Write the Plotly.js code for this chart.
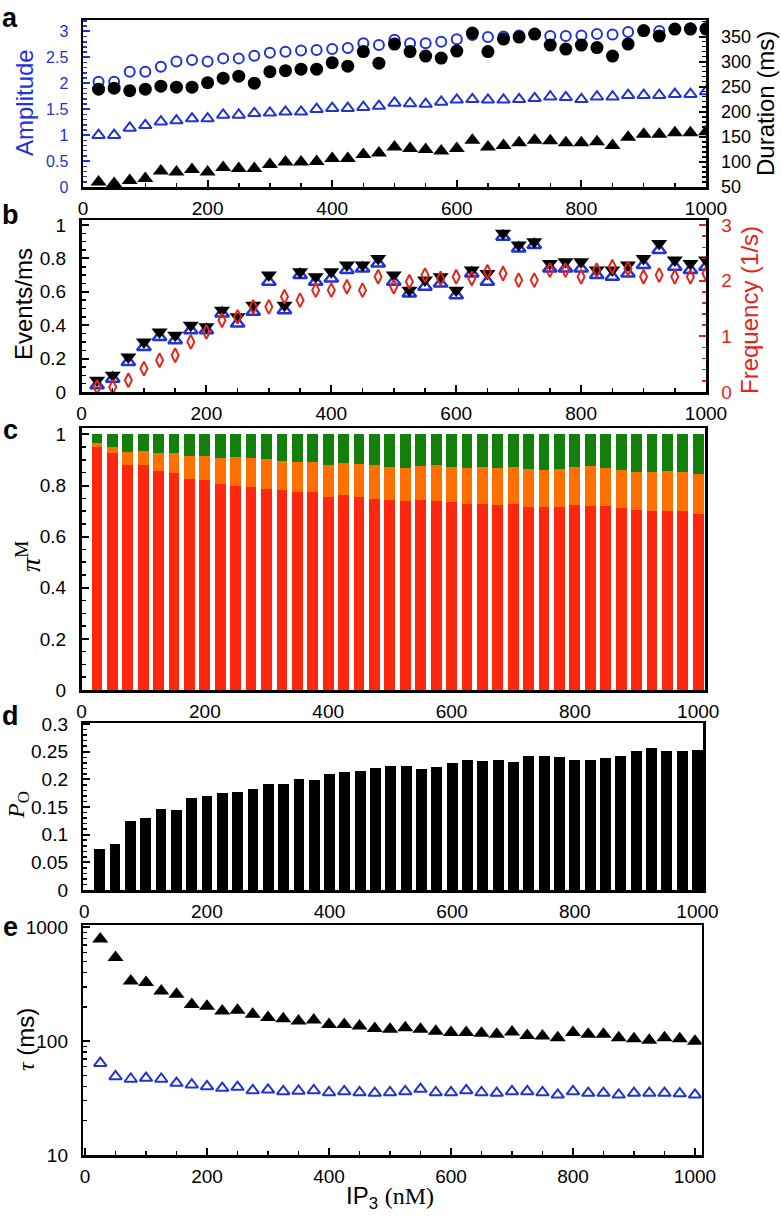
<!DOCTYPE html>
<html>
<head>
<meta charset="utf-8">
<script src="https://cdn.plot.ly/plotly-3.0.1.min.js"></script>
<style>
  html, body { margin:0; padding:0; background:#fff; }
  #chart { width:781px; height:1218px; }
</style>
</head>
<body>
<div id="chart"></div>
<script>

/* ==========================================
   DATA
========================================== */

const ip3 = [25,50,75,100,125,150,175,200,225,250,
             275,300,325,350,375,400,425,450,475,500,
             525,550,575,600,625,650,675,700,725,750,
             775,800,825,850,875,900,925,950,975,1000];

// panel a
const ampCircle = [2.03,2.03,2.22,2.22,2.32,2.42,2.45,2.42,2.48,2.48,
                   2.53,2.59,2.61,2.63,2.64,2.66,2.68,2.77,2.74,2.84,
                   2.77,2.77,2.80,2.85,2.93,2.89,2.90,2.92,2.95,2.91,
                   2.91,2.92,2.95,2.94,2.99,3.01,3.01,3.04,3.06,3.06];

const ampTriangle = [1.00,1.00,1.14,1.19,1.26,1.28,1.32,1.32,1.39,1.39,
                     1.42,1.43,1.45,1.45,1.50,1.52,1.52,1.54,1.56,1.62,
                     1.61,1.60,1.64,1.68,1.69,1.68,1.68,1.69,1.71,1.74,
                     1.73,1.69,1.74,1.74,1.77,1.77,1.77,1.79,1.79,1.84];

const durCircle = [245,247,242,245,251,249,249,258,267,271,
                   257,280,282,285,285,298,291,320,297,335,
                   320,311,307,321,357,320,345,349,355,333,
                   325,333,328,311,335,362,351,365,365,365];

const durTriangle = [60,57,63,67,82,80,85,80,89,87,
                     87,95,100,100,101,107,107,115,118,130,
                     127,125,122,127,143,130,133,138,143,142,
                     138,138,140,133,149,155,155,158,158,160];

// panel b
const eventsDown = [0.07,0.10,0.21,0.30,0.36,0.34,0.40,0.39,0.49,0.45,
                    0.52,0.70,0.52,0.72,0.69,0.72,0.76,0.76,0.80,0.70,
                    0.61,0.67,0.69,0.61,0.73,0.71,0.95,0.88,0.90,0.77,
                    0.78,0.78,0.73,0.73,0.76,0.80,0.89,0.79,0.77,0.79];

const eventsUp = [0.04,0.08,0.18,0.27,0.33,0.31,0.37,0.37,0.47,0.41,
                  0.48,0.66,0.49,0.70,0.66,0.68,0.73,0.74,0.77,0.66,
                  0.59,0.63,0.65,0.58,0.71,0.66,0.93,0.86,0.88,0.74,
                  0.74,0.74,0.70,0.69,0.71,0.76,0.85,0.75,0.73,0.75];

const frequency = [0.09,0.09,0.21,0.42,0.57,0.66,0.90,1.08,1.29,1.35,
                   1.53,1.53,1.71,1.65,1.83,1.83,1.89,1.83,2.07,1.89,
                   1.98,2.10,2.04,2.07,2.04,2.16,2.13,2.01,2.01,2.19,
                   2.19,2.07,2.19,2.25,2.22,2.07,2.10,2.07,2.07,2.13];

// panel c (stacked fractions)
const piRed = [0.949,0.926,0.881,0.879,0.858,0.850,0.825,0.821,0.807,0.798,
               0.795,0.785,0.781,0.774,0.774,0.757,0.761,0.757,0.747,0.742,
               0.740,0.744,0.740,0.735,0.728,0.728,0.724,0.728,0.716,0.717,
               0.716,0.725,0.721,0.719,0.712,0.703,0.699,0.702,0.701,0.690];

const piOrange = [0.016,0.024,0.051,0.057,0.070,0.078,0.090,0.094,0.101,0.114,
                  0.113,0.119,0.114,0.117,0.117,0.125,0.128,0.129,0.135,0.130,
                  0.129,0.131,0.139,0.136,0.141,0.145,0.145,0.143,0.149,0.145,
                  0.150,0.148,0.154,0.150,0.150,0.150,0.154,0.156,0.152,0.156];

const piGreen = [0.035,0.050,0.068,0.064,0.072,0.072,0.085,0.085,0.092,0.088,
                 0.092,0.096,0.105,0.109,0.109,0.118,0.111,0.114,0.118,0.128,
                 0.131,0.125,0.121,0.129,0.131,0.127,0.131,0.129,0.135,0.138,
                 0.134,0.127,0.125,0.131,0.138,0.147,0.147,0.142,0.147,0.154];

// panel d
const openProb = [0.074,0.083,0.125,0.130,0.147,0.144,0.167,0.170,0.175,0.177,
                  0.182,0.192,0.192,0.200,0.199,0.209,0.214,0.215,0.220,0.224,
                  0.225,0.219,0.223,0.230,0.235,0.233,0.235,0.232,0.242,0.242,
                  0.241,0.235,0.236,0.238,0.243,0.252,0.256,0.251,0.251,0.254];

// panel e
const tauFilled = [789,543,338,327,276,258,210,203,184,187,
                   172,161,157,150,153,140,140,136,129,127,
                   131,127,122,119,119,117,115,120,112,111,
                   107,119,115,115,107,105,102,107,105,100];

const tauOpen = [64,49,46.5,47.4,46.5,42.8,41.4,40,38.7,39.5,
                 36.9,37.4,36.2,36.5,36.9,35.4,36.2,35.4,35,35.4,
                 36.2,37.9,35.4,35.4,36.9,35.4,35,36.2,36.2,35.4,
                 33.8,36.2,35,35,33.8,35,35,35,34.6,33.8];

const xTicks = [0,200,400,600,800,1000];


/* ==========================================
   STYLE
========================================== */

const W = 781, H = 1218;
const SANS = "Liberation Sans, Arial, Helvetica, sans-serif";
const SERIF = "Liberation Serif, Times New Roman, serif";
const BLUE = "#2233d6";
const RED = "#e3261c";

function px(x){ return x / W; }
function py(y){ return 1 - y / H; }

function xAxis(dom, range, anchor, withTicks){
    const axis = {
        domain:[px(dom[0]), px(dom[1])],
        range:range,
        anchor:anchor,
        tickvals:xTicks,
        ticks:withTicks ? "inside" : "",
        ticklen:7, tickwidth:2, tickcolor:"#000",
        ticklabelstandoff:3,
        tickfont:{family:SANS, size:19, color:"#000"},
        showline:true, linecolor:"#000", linewidth:2.5, mirror:true,
        showgrid:false, zeroline:false, fixedrange:true
    };
    if(withTicks){
        axis.minor = {dtick:50, ticks:"inside", ticklen:4, tickwidth:1.5, tickcolor:"#000"};
    }
    return axis;
}

function yAxis(dom, range, anchor, dtick, minorDtick, extra){
    return Object.assign({
        domain:[py(dom[1]), py(dom[0])],
        range:range,
        anchor:anchor,
        dtick:dtick, tick0:0,
        ticks:"inside", ticklen:7, tickwidth:2, tickcolor:"#000",
        minor:{dtick:minorDtick, ticks:"inside", ticklen:4, tickwidth:1.5, tickcolor:"#000"},
        ticklabelstandoff:9,
        tickfont:{family:SANS, size:19, color:"#000"},
        showline:true, linecolor:"#000", linewidth:2.5, mirror:true,
        showgrid:false, zeroline:false, fixedrange:true
    }, extra || {});
}


/* ==========================================
   TRACES
========================================== */

const traces = [

    // a
    {x:ip3, y:ampCircle, xaxis:"x", yaxis:"y", mode:"markers",
     marker:{symbol:"circle-open", size:10, color:BLUE, line:{width:2, color:BLUE}}},
    {x:ip3, y:ampTriangle, xaxis:"x", yaxis:"y", mode:"markers",
     marker:{symbol:"triangle-up-open", size:11, color:BLUE, line:{width:2, color:BLUE}}},
    {x:ip3, y:durCircle, xaxis:"x", yaxis:"y2", mode:"markers",
     marker:{symbol:"circle", size:13, color:"#000"}},
    {x:ip3, y:durTriangle, xaxis:"x", yaxis:"y2", mode:"markers",
     marker:{symbol:"triangle-up", size:14, color:"#000"}},

    // b
    {x:ip3, y:eventsUp, xaxis:"x2", yaxis:"y3", mode:"markers",
     marker:{symbol:"triangle-up-open", size:12, color:BLUE, line:{width:2.5, color:BLUE}}},
    {x:ip3, y:eventsDown, xaxis:"x2", yaxis:"y3", mode:"markers",
     marker:{symbol:"triangle-down", size:14, color:"#000"}},
    {x:ip3, y:frequency, xaxis:"x2", yaxis:"y4", mode:"markers",
     marker:{symbol:"diamond-tall-open", size:10, color:RED, line:{width:2, color:RED}}},

    // c
    {type:"bar", x:ip3, y:piRed, width:17.5, xaxis:"x3", yaxis:"y5",
     marker:{color:"#fd2710", line:{width:0}}},
    {type:"bar", x:ip3, y:piOrange, width:17.5, xaxis:"x3", yaxis:"y5",
     marker:{color:"#ff7000", line:{width:0}}},
    {type:"bar", x:ip3, y:piGreen, width:17.5, xaxis:"x3", yaxis:"y5",
     marker:{color:"#13800c", line:{width:0}}},

    // d
    {type:"bar", x:ip3, y:openProb, width:17.5, xaxis:"x4", yaxis:"y6",
     marker:{color:"#000", line:{width:0}}},

    // e
    {x:ip3, y:tauFilled, xaxis:"x5", yaxis:"y7", mode:"markers",
     marker:{symbol:"triangle-up", size:14, color:"#000"}},
    {x:ip3, y:tauOpen, xaxis:"x5", yaxis:"y7", mode:"markers",
     marker:{symbol:"triangle-up-open", size:11, color:BLUE, line:{width:2, color:BLUE}}}

];


/* ==========================================
   LAYOUT
========================================== */

function label(text, x, y, size, opts){
    return Object.assign({
        text:text, xref:"paper", yref:"paper", x:px(x), y:py(y),
        xanchor:"center", yanchor:"middle", showarrow:false,
        font:{family:SANS, size:size, color:"#000"}
    }, opts || {});
}

const layout = {
    width:W, height:H,
    margin:{l:0, r:0, t:0, b:0},
    paper_bgcolor:"#fff", plot_bgcolor:"rgba(0,0,0,0)",
    showlegend:false,
    barmode:"stack",

    xaxis:xAxis([83,706], [0,1000], "y", true),
    yaxis:yAxis([20,187], [0,3.22], "x", 0.5, 0.1, {
        tickcolor:BLUE, mirror:false,
        minor:{dtick:0.1, ticks:"inside", ticklen:4, tickwidth:1.5, tickcolor:BLUE},
        tickfont:{family:SANS, size:16, color:BLUE}
    }),
    yaxis2:yAxis([20,187], [50,383], "x", 50, 10, {
        overlaying:"y", side:"right", mirror:false,
        tickfont:{family:SANS, size:18, color:"#000"}
    }),

    xaxis2:xAxis([81.5,706], [0,1000], "y3", true),
    yaxis3:yAxis([220,392], [0,1.03], "x2", 0.2, 0.05, {mirror:false}),
    yaxis4:yAxis([220,392], [0,3.09], "x2", 1, 0.2, {
        overlaying:"y3", side:"right", mirror:false,
        tickcolor:RED,
        minor:{dtick:0.2, ticks:"inside", ticklen:4, tickwidth:1.5, tickcolor:RED},
        tickfont:{family:SANS, size:19, color:RED}
    }),

    xaxis3:xAxis([81.5,705], [0,1011], "y5", false),
    yaxis5:yAxis([428,690], [0,1.025], "x3", 0.2, 0.05),

    xaxis4:xAxis([83.3,703], [-1.5,1009], "y6", false),
    yaxis6:yAxis([723,890], [0,0.302], "x4", 0.05, 0.01),

    xaxis5:xAxis([83.3,701.7], [-2.8,1011], "y7", true),
    yaxis7:yAxis([925,1155], [1,3.02], "x5", null, null, {
        type:"log",
        tickvals:[10,100,1000], ticktext:["10","100","1000"],
        minor:{tickvals:[20,30,40,50,60,70,80,90,200,300,400,500,600,700,800,900],
               ticks:"inside", ticklen:4, tickwidth:1.5, tickcolor:"#000"}
    }),

    annotations:[
        label("<b>a</b>", 10, 18, 27),
        label("<b>b</b>", 10, 215, 27),
        label("<b>c</b>", 10, 430, 27),
        label("<b>d</b>", 10, 716, 27),
        label("<b>e</b>", 10, 927, 27),

        label("Amplitude", 25, 103, 24, {textangle:-90, font:{family:SANS, size:24, color:BLUE}}),
        label("Duration (ms)", 765, 104, 24, {textangle:-90}),
        label("Events/ms", 23, 304, 24, {textangle:-90}),
        label("Frequency (1/s)", 749, 310, 24, {textangle:-90, font:{family:SANS, size:24, color:RED}}),
        label("<i>π</i><sup>M</sup>", 28, 557, 28, {textangle:-90, font:{family:SERIF, size:28, color:"#000"}}),
        label("<i>P</i><sub>O</sub>", 18, 805, 24, {textangle:-90, font:{family:SERIF, size:24, color:"#000"}}),
        label("<span style=\"font-family:" + SERIF + "\"><i>τ</i></span> (ms)", 25, 1040, 24, {textangle:-90}),
        label("IP<sub>3</sub> <span style=\"font-family:" + SERIF + "\">(nM)</span>", 390, 1197, 24)
    ]
};

Plotly.newPlot("chart", traces, layout, {staticPlot:true, displayModeBar:false});

</script>
</body>
</html>
